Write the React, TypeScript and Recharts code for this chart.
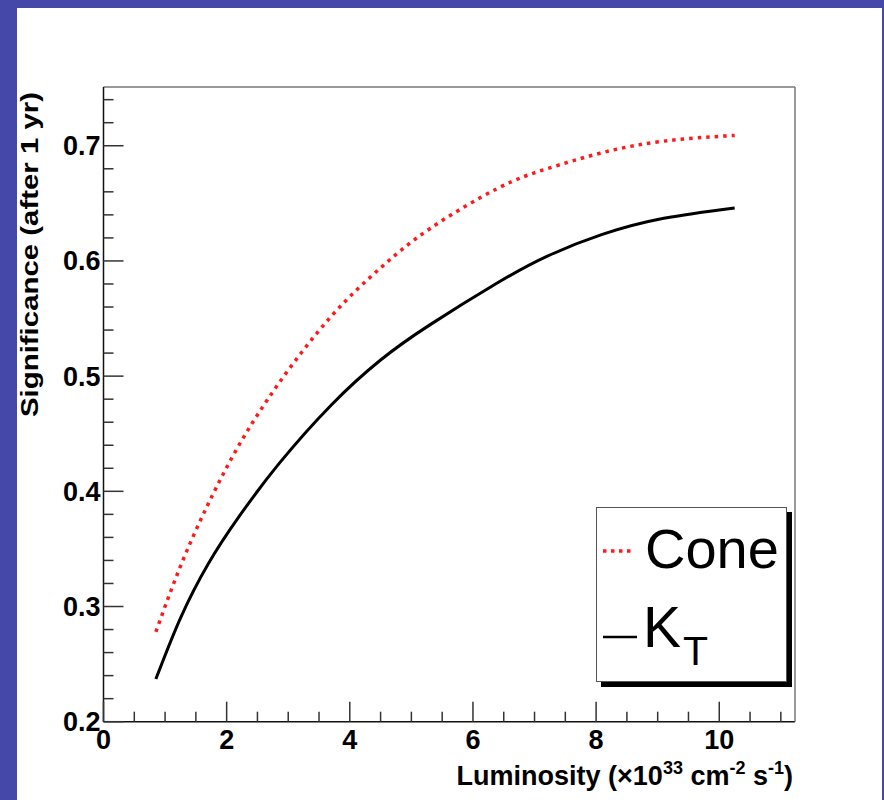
import { LineChart, Line, XAxis, YAxis, Legend } from 'recharts'

const lum = [0.85, 1.25, 1.7, 2.2, 2.85, 3.7, 4.5, 5.3, 6.4, 7.2, 8.1, 9.1, 10.25]
const cone = [0.278, 0.335, 0.389, 0.44, 0.494, 0.552, 0.594, 0.628, 0.663, 0.68, 0.694, 0.704, 0.709]
const kt = [0.237, 0.29, 0.337, 0.378, 0.424, 0.475, 0.514, 0.5445, 0.581, 0.604, 0.623, 0.637, 0.646]

const xTicks = [0, 0.5, 1, 1.5, 2, 2.5, 3, 3.5, 4, 4.5, 5, 5.5, 6, 6.5, 7, 7.5, 8, 8.5, 9, 9.5, 10, 10.5, 11]
const yTicks = [0.2, 0.22, 0.24, 0.26, 0.28, 0.3, 0.32, 0.34, 0.36, 0.38, 0.4, 0.42, 0.44, 0.46, 0.48, 0.5,
  0.52, 0.54, 0.56, 0.58, 0.6, 0.62, 0.64, 0.66, 0.68, 0.7, 0.72, 0.74]

const data = lum.map((l, i) => ({ lum: l, cone: cone[i], kt: kt[i] }))

const FONT = '"Liberation Sans", Arial, Helvetica, sans-serif'

function XTick({ x, y, payload }: any) {
  const major = payload.value % 2 === 0
  return (
    <g>
      <line x1={x} x2={x} y1={y} y2={y - (major ? 20 : 10)} stroke="#333" strokeWidth={1.5} />
      {major && (
        <text x={x} y={y + 27} textAnchor="middle" fontFamily={FONT} fontWeight="bold" fontSize={27} fill="#000">
          {payload.value}
        </text>
      )}
    </g>
  )
}

function YTick({ x, y, payload }: any) {
  const v = payload.value * 10
  const major = Math.abs(v - Math.round(v)) < 1e-6
  return (
    <g>
      <line x1={x} x2={x + (major ? 20 : 10)} y1={y} y2={y} stroke="#333" strokeWidth={1.5} />
      {major && (
        <text x={x - 3} y={y + 9.5} textAnchor="end" fontFamily={FONT} fontWeight="bold" fontSize={27} fill="#000">
          {payload.value.toFixed(1)}
        </text>
      )}
    </g>
  )
}

const xLabel = () => (
  <text x={793} y={785} textAnchor="end" fontFamily={FONT} fontWeight="bold" fontSize={27} fill="#000">
    Luminosity (×10
    <tspan dy={-11} fontSize={18}>33</tspan>
    <tspan dy={11}> cm</tspan>
    <tspan dy={-11} fontSize={18}>-2</tspan>
    <tspan dy={11}> s</tspan>
    <tspan dy={-11} fontSize={18}>-1</tspan>
    <tspan dy={11}>)</tspan>
  </text>
)

const yLabel = () => (
  <text
    transform="translate(38,92) rotate(-90)"
    textAnchor="end"
    fontFamily={FONT}
    fontWeight="bold"
    fontSize={24}
    fill="#000"
    textLength={325}
    lengthAdjust="spacingAndGlyphs"
  >
    Significance (after 1 yr)
  </text>
)

const renderLegend = () => (
  <div
    style={{
      width: 191,
      height: 175,
      background: '#fff',
      border: '1px solid #555',
      boxShadow: '5px 5px 0 #000',
      boxSizing: 'border-box',
    }}
  >
    <svg width={189} height={173} style={{ display: 'block' }}>
      <line x1={6} x2={38} y1={43} y2={43} stroke="#ff1a1a" strokeWidth={3.5} strokeDasharray="3.5 4.5" />
      <text x={48} y={60} fontFamily={FONT} fontSize={56} fill="#000">Cone</text>
      <line x1={6} x2={40} y1={129} y2={129} stroke="#000" strokeWidth={2.5} />
      <text x={46} y={139} fontFamily={FONT} fontSize={57} fill="#000">K</text>
      <text x={86} y={157} fontFamily={FONT} fontSize={41} fill="#000">T</text>
    </svg>
  </div>
)

export default function App() {
  return (
    <div style={{ position: 'absolute', left: 0, top: 0, width: 884, height: 800, background: '#4547a9' }}>
      <div style={{ position: 'absolute', left: 17, top: 8, width: 865, height: 792, background: '#fff' }} />
      <div style={{ position: 'absolute', left: 0, top: 0 }}>
        <LineChart width={884} height={800} data={data} margin={{ left: 102.5, right: 88, top: 86, bottom: 77.3 }}>
          <XAxis
            dataKey="lum"
            type="number"
            domain={[0, 11.23]}
            allowDataOverflow
            ticks={xTicks}
            interval={0}
            height={1}
            tickSize={0}
            tickMargin={0}
            tickLine={false}
            tick={<XTick />}
            axisLine={{ stroke: '#111', strokeWidth: 1.5 }}
            label={xLabel}
          />
          <XAxis
            xAxisId="top"
            orientation="top"
            dataKey="lum"
            type="number"
            domain={[0, 11.23]}
            height={1}
            tick={false}
            tickLine={false}
            axisLine={{ stroke: '#777', strokeWidth: 1.5 }}
          />
          <YAxis
            type="number"
            domain={[0.2, 0.751]}
            allowDataOverflow
            ticks={yTicks}
            interval={0}
            width={1}
            tickSize={0}
            tickMargin={0}
            tickLine={false}
            tick={<YTick />}
            axisLine={{ stroke: '#111', strokeWidth: 1.5 }}
            label={yLabel}
          />
          <YAxis
            yAxisId="right"
            orientation="right"
            type="number"
            domain={[0.2, 0.751]}
            width={1}
            tick={false}
            tickLine={false}
            axisLine={{ stroke: '#777', strokeWidth: 1.5 }}
          />
          <Legend
            layout="vertical"
            align="center"
            verticalAlign="middle"
            content={renderLegend}
            wrapperStyle={{ left: 596, top: 507, width: 191, height: 175 }}
          />
          <Line
            dataKey="cone"
            type="natural"
            stroke="#ff1a1a"
            strokeWidth={3.5}
            strokeDasharray="3.5 5"
            dot={false}
            isAnimationActive={false}
          />
          <Line
            dataKey="kt"
            type="natural"
            stroke="#000"
            strokeWidth={3}
            dot={false}
            isAnimationActive={false}
          />
        </LineChart>
      </div>
    </div>
  )
}
